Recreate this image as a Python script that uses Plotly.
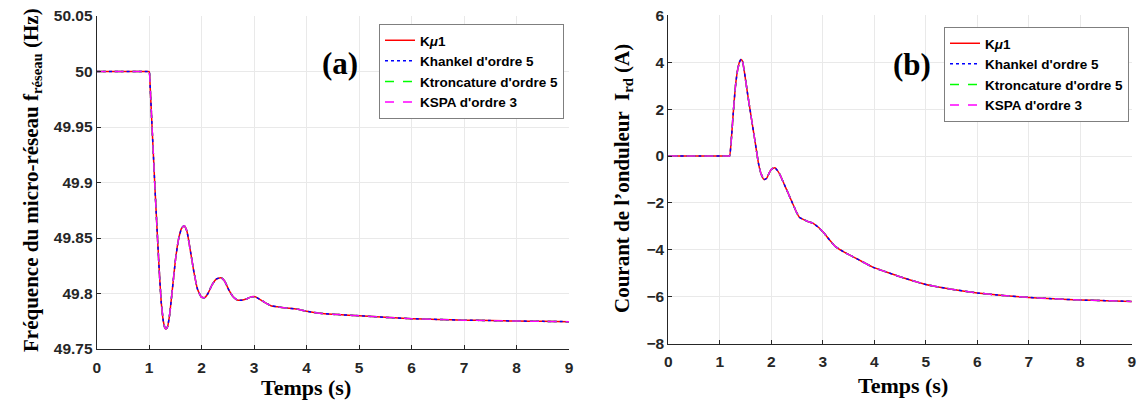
import plotly.graph_objects as go

# ---------------- data ----------------
t_freq = [0, 0.5, 0.95, 1.0, 1.02, 1.05, 1.08, 1.11, 1.15, 1.19, 1.23, 1.27, 1.30, 1.32, 1.35, 1.39, 1.44,
          1.50, 1.56, 1.62, 1.67, 1.72, 1.78, 1.85, 1.92, 1.99, 2.05, 2.12, 2.20, 2.28, 2.34,
          2.38, 2.44, 2.52, 2.60, 2.68, 2.76, 2.85, 2.95, 3.02, 3.10, 3.20, 3.32, 3.45,
          3.60, 3.81, 4.0, 4.3, 4.6, 5.0, 5.5, 6.0, 6.5, 7.0, 7.5, 8.0, 8.5, 9.0]
f_freq = [50.0, 50.0, 50.0, 50.0, 49.985, 49.955, 49.925, 49.895, 49.858, 49.822, 49.792, 49.775, 49.769, 49.768, 49.770, 49.781, 49.803,
          49.830, 49.849, 49.859, 49.861, 49.856, 49.840, 49.820, 49.804, 49.797, 49.796, 49.800, 49.808, 49.813, 49.814,
          49.814, 49.811, 49.803, 49.797, 49.794, 49.794, 49.795, 49.797, 49.797, 49.795, 49.792, 49.789, 49.788,
          49.787, 49.786, 49.784, 49.782, 49.781, 49.780, 49.7785, 49.7773, 49.7766, 49.776, 49.7756, 49.7752, 49.7749, 49.7746]

t_curr = [0, 0.6, 1.15, 1.19, 1.22, 1.26, 1.30, 1.34, 1.38, 1.41, 1.44, 1.47, 1.51, 1.55, 1.60, 1.65,
          1.70, 1.75, 1.80, 1.86, 1.91, 1.96, 2.01, 2.07, 2.12, 2.17, 2.25, 2.33, 2.41, 2.49,
          2.55, 2.62, 2.72, 2.82, 2.92, 3.01, 3.12, 3.24, 3.40, 3.59, 3.78, 3.98, 4.2, 4.5,
          5.0, 5.5, 6.0, 6.5, 7.0, 7.5, 8.0, 8.5, 9.0]
i_curr = [0, 0, 0, 0, 0.6, 1.8, 2.9, 3.6, 4.0, 4.12, 4.05, 3.7, 3.1, 2.5, 1.8, 1.1,
          0.4, -0.3, -0.75, -1.0, -0.95, -0.72, -0.55, -0.5, -0.62, -0.8, -1.2, -1.6, -2.0, -2.4,
          -2.62, -2.7, -2.8, -2.88, -3.05, -3.25, -3.55, -3.85, -4.08, -4.3, -4.52, -4.75, -4.92, -5.15,
          -5.48, -5.68, -5.84, -5.95, -6.03, -6.09, -6.14, -6.17, -6.2]

series_names = ["K<i>μ</i>1", "Khankel d'ordre 5", "Ktroncature d'ordre 5", "KSPA d'ordre 3"]
series_colors = ["#ff0000", "#0000ff", "#00ff00", "#ff00ff"]
series_dash = ["solid", "dot", "dash", "dash"]

x_ticks = [0, 1, 2, 3, 4, 5, 6, 7, 8, 9]
freq_ticks = [49.75, 49.8, 49.85, 49.9, 49.95, 50, 50.05]
freq_ticktext = ["49.75", "49.8", "49.85", "49.9", "49.95", "50", "50.05"]
curr_ticks = [-8, -6, -4, -2, 0, 2, 4, 6]

# ---------------- figure ----------------
fig = go.Figure()

for name, col, dash in zip(series_names, series_colors, series_dash):
    fig.add_trace(go.Scatter(x=t_freq, y=f_freq, mode="lines", name=name,
                             line=dict(color=col, dash=dash, width=1.5, shape="spline", smoothing=0.4),
                             xaxis="x", yaxis="y", legend="legend"))
for name, col, dash in zip(series_names, series_colors, series_dash):
    fig.add_trace(go.Scatter(x=t_curr, y=i_curr, mode="lines", name=name,
                             line=dict(color=col, dash=dash, width=1.5, shape="spline", smoothing=0.4),
                             xaxis="x2", yaxis="y2", legend="legend2"))

W, H = 1137, 403
tickfont = dict(family="Liberation Sans", size=15.5, color="#262626", weight="bold")
axis_common = dict(showgrid=True, gridcolor="#e9e9e9", gridwidth=1, zeroline=False,
                   showline=True, linecolor="#262626", linewidth=1, mirror=False,
                   ticks="inside", ticklen=4, tickcolor="#262626", tickfont=tickfont,
                   automargin=False)

legend_font = dict(family="Liberation Sans", size=13.5, color="black", weight="bold")

fig.update_layout(
    width=W, height=H,
    margin=dict(l=0, r=0, t=0, b=0, autoexpand=False),
    paper_bgcolor="white", plot_bgcolor="white",
    xaxis=dict(domain=[96.7 / W, 569 / W], range=[0, 9], tickvals=x_ticks, anchor="y",
               ticklabelstandoff=4, **axis_common),
    yaxis=dict(domain=[(H - 349) / H, (H - 16) / H], range=[49.75, 50.05], tickvals=freq_ticks,
               ticktext=freq_ticktext, anchor="x", **axis_common),
    xaxis2=dict(domain=[668.3 / W, 1131.8 / W], range=[0, 9], tickvals=x_ticks, anchor="y2",
                ticklabelstandoff=4, **axis_common),
    yaxis2=dict(domain=[(H - 343.6) / H, (H - 15.4) / H], range=[-8, 6], tickvals=curr_ticks,
                anchor="x2", **axis_common),
    legend=dict(x=564 / W, y=(H - 24) / H, xanchor="right", yanchor="top",
                bgcolor="white", bordercolor="#7f7f7f", borderwidth=1,
                font=legend_font, itemwidth=30, tracegroupgap=0),
    legend2=dict(x=1129 / W, y=(H - 27) / H, xanchor="right", yanchor="top",
                 bgcolor="white", bordercolor="#7f7f7f", borderwidth=1,
                 font=legend_font, itemwidth=30, tracegroupgap=0),
    showlegend=True,
)

title_font = dict(family="Liberation Serif", size=21, color="black", weight="bold")
xtitle_font = dict(family="Liberation Serif", size=22, color="black", weight="bold")
label_font = dict(family="Liberation Serif", size=31, color="black", weight="bold")

def note(text, x, y, font, angle=0):
    fig.add_annotation(text=text, textangle=angle, x=x / W, y=(H - y) / H,
                       xref="paper", yref="paper", xanchor="center", yanchor="middle",
                       showarrow=False, font=font)

note("Fréquence du micro-réseau f<sub>réseau</sub> (Hz)", 32, 180, title_font, -90)
note("Courant de l’onduleur  I<sub>rd</sub> (A)", 623, 179, title_font, -90)
note("Temps (s)", 306, 387, xtitle_font)
note("Temps (s)", 903, 385, xtitle_font)
note("(a)", 340, 63, label_font)
note("(b)", 912, 65, label_font)

fig.write_html("out.html", config={"displayModeBar": False},
               post_script="document.body.style.margin='0';document.body.style.overflow='hidden';")
